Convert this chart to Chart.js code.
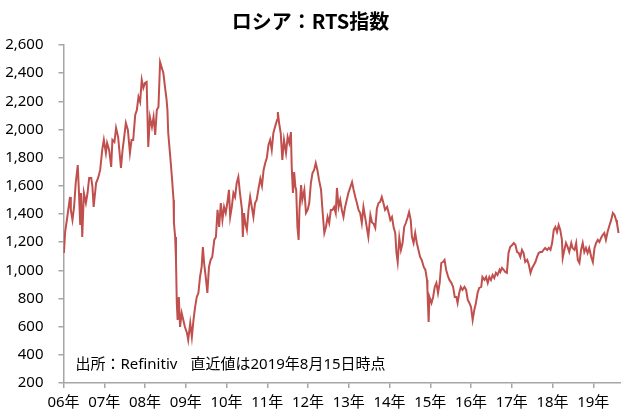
<!DOCTYPE html>
<html>
<head>
<meta charset="utf-8">
<script src="https://cdn.jsdelivr.net/npm/chart.js@4.4.1/dist/chart.umd.min.js"></script>
<style>
  html, body { margin: 0; padding: 0; background: #fff; }
  #wrap { width: 621px; height: 415px; }
</style>
</head>
<body>
<div id="wrap"><canvas id="c" width="621" height="415"></canvas></div>
<script>
const chartTitle = 'ロシア：RTS指数';
const sourceNote = '出所：Refinitiv';
const dateNote = '直近値は2019年8月15日時点';

const tickYears = [2006,2007,2008,2009,2010,2011,2012,2013,2014,2015,2016,2017,2018,2019];
const xTickLabels = ['06年','07年','08年','09年','10年','11年','12年','13年','14年','15年','16年','17年','18年','19年'];
const yTicks = [200,400,600,800,1000,1200,1400,1600,1800,2000,2200,2400,2600];

// decimal-year dates and RTS index values
const dates = [
2006.01,2006.04,2006.09,2006.16,2006.18,2006.22,2006.26,2006.30,2006.35,2006.38,2006.41,2006.43,2006.46,2006.50,2006.55,2006.59,2006.63,2006.68,2006.71,2006.74,2006.80,2006.85,2006.90,2006.95,2006.99,
2007.04,2007.07,2007.12,2007.17,2007.20,2007.25,2007.29,2007.34,2007.37,2007.41,2007.45,2007.49,2007.53,2007.58,2007.63,2007.67,2007.71,2007.76,2007.80,2007.84,2007.88,2007.92,2007.96,
2008.00,2008.04,2008.08,2008.12,2008.17,2008.21,2008.25,2008.29,2008.33,2008.37,2008.45,2008.49,2008.53,2008.55,2008.57,2008.62,2008.66,2008.70,2008.71,2008.74,2008.76,2008.78,2008.80,2008.83,2008.86,2008.90,2008.94,2008.98,
2009.03,2009.06,2009.11,2009.15,2009.19,2009.23,2009.27,2009.31,2009.35,2009.39,2009.42,2009.45,2009.49,2009.53,2009.57,2009.61,2009.65,2009.70,2009.74,2009.78,2009.82,2009.86,2009.90,2009.94,2009.98,
2010.02,2010.06,2010.09,2010.13,2010.17,2010.21,2010.25,2010.29,2010.33,2010.38,2010.40,2010.43,2010.46,2010.50,2010.54,2010.58,2010.62,2010.66,2010.70,2010.74,2010.78,2010.83,2010.87,2010.91,2010.95,2010.99,
2011.03,2011.07,2011.11,2011.15,2011.19,2011.24,2011.26,2011.29,2011.33,2011.37,2011.41,2011.46,2011.50,2011.54,2011.58,2011.60,2011.63,2011.66,2011.69,2011.71,2011.74,2011.77,2011.79,2011.83,2011.86,2011.91,2011.95,2011.99,
2012.03,2012.07,2012.11,2012.15,2012.19,2012.23,2012.27,2012.32,2012.36,2012.40,2012.44,2012.48,2012.52,2012.56,2012.60,2012.64,2012.68,2012.71,2012.75,2012.79,2012.83,2012.87,2012.91,2012.95,2012.99,
2013.04,2013.08,2013.12,2013.16,2013.20,2013.24,2013.28,2013.32,2013.36,2013.40,2013.44,2013.48,2013.53,2013.57,2013.61,2013.65,2013.69,2013.73,2013.77,2013.81,2013.85,2013.89,2013.94,2013.98,
2014.02,2014.06,2014.10,2014.14,2014.17,2014.20,2014.24,2014.28,2014.32,2014.36,2014.40,2014.44,2014.48,2014.52,2014.55,2014.59,2014.63,2014.67,2014.71,2014.75,2014.79,2014.84,2014.88,2014.92,2014.93,2014.96,2014.98,
2015.03,2015.07,2015.11,2015.15,2015.19,2015.23,2015.27,2015.31,2015.35,2015.39,2015.44,2015.47,2015.52,2015.56,2015.60,2015.64,2015.67,2015.71,2015.75,2015.79,2015.84,2015.88,2015.92,2015.96,
2016.00,2016.04,2016.08,2016.12,2016.16,2016.20,2016.25,2016.28,2016.33,2016.37,2016.41,2016.45,2016.49,2016.53,2016.57,2016.61,2016.65,2016.70,2016.72,2016.76,2016.80,2016.84,2016.88,2016.92,2016.96,
2017.01,2017.05,2017.09,2017.13,2017.17,2017.21,2017.25,2017.29,2017.33,2017.38,2017.42,2017.46,2017.50,2017.54,2017.58,2017.62,2017.66,2017.70,2017.74,2017.78,2017.82,2017.87,2017.91,2017.95,2017.99,
2018.03,2018.07,2018.11,2018.15,2018.19,2018.23,2018.25,2018.29,2018.33,2018.37,2018.41,2018.46,2018.49,2018.54,2018.58,2018.62,2018.66,2018.70,2018.74,2018.78,2018.82,2018.86,2018.90,2018.95,2018.99,
2019.03,2019.07,2019.11,2019.15,2019.19,2019.23,2019.27,2019.31,2019.35,2019.40,2019.44,2019.48,2019.52,2019.56,2019.58,2019.62
];
const rtsValues = [
1123,1272,1372,1521,1429,1358,1450,1620,1748,1549,1322,1549,1237,1549,1478,1549,1656,1656,1592,1450,1620,1656,1713,1855,1926,
1833,1904,1855,1734,1926,1911,2011,1947,1855,1727,1855,1947,2046,1997,1833,1926,1926,2103,2139,2231,2195,2352,2295,
2330,2337,1876,2089,2018,2089,1961,2139,2160,2479,2401,2302,2210,2139,1975,1805,1663,1500,1336,1237,1074,768,648,811,598,697,648,598,
555,506,626,527,648,740,811,839,953,1024,1166,1052,953,839,1024,1074,1095,1216,1237,1429,1308,1478,1358,1450,1407,
1478,1571,1379,1450,1549,1521,1620,1663,1549,1429,1237,1407,1336,1287,1429,1521,1450,1379,1478,1500,1571,1650,1600,1713,1762,1800,
1890,1926,1855,1975,2018,2068,2124,2046,1975,1784,1926,1833,1947,1904,1982,1734,1549,1698,1592,1571,1308,1216,1429,1606,1500,1571,1407,1429,
1478,1620,1691,1713,1762,1713,1642,1571,1407,1265,1308,1379,1336,1429,1429,1450,1407,1585,1450,1500,1429,1379,1450,1500,1549,
1592,1627,1571,1521,1478,1429,1407,1336,1450,1379,1308,1237,1393,1340,1330,1301,1440,1478,1486,1521,1478,1429,1450,1407,
1358,1379,1308,1265,1123,1059,1230,1145,1194,1308,1336,1372,1414,1358,1237,1194,1265,1194,1145,1095,1074,1024,1003,932,861,634,811,
768,811,882,910,839,910,1052,1059,1074,1003,953,932,910,882,811,811,768,839,882,861,882,861,790,768,
740,648,719,768,839,875,882,953,932,953,910,953,932,967,946,982,967,1003,989,1017,1003,989,982,1123,1166,
1180,1194,1180,1130,1123,1095,1145,1123,1059,1074,1038,982,1017,1038,1059,1095,1123,1130,1130,1145,1159,1145,1159,1145,1194,
1287,1308,1272,1322,1287,1216,1088,1145,1194,1166,1130,1194,1159,1145,1194,1074,1052,1145,1194,1130,1159,1123,1159,1095,1059,
1159,1194,1216,1201,1230,1251,1265,1216,1272,1322,1358,1407,1393,1358,1336,1265
];

const points = dates.map((d, i) => ({ x: d, y: rtsValues[i] }));

const AXIS_COLOR = '#a6a6a6';
const FONT_FAMILY = '"Noto Sans", "Noto Sans CJK JP", sans-serif';

const notePlugin = {
  id: 'notePlugin',
  afterDraw(chart) {
    const { ctx, chartArea } = chart;
    ctx.save();
    ctx.font = '15px ' + FONT_FAMILY;
    ctx.fillStyle = '#000';
    ctx.textBaseline = 'middle';
    ctx.textAlign = 'left';
    const y = chartArea.bottom - 18;
    ctx.fillText(sourceNote, chartArea.left + 12, y);
    ctx.fillText(dateNote, chartArea.left + 127, y);
    ctx.restore();
  }
};

new Chart(document.getElementById('c'), {
  type: 'line',
  data: {
    datasets: [{
      data: points,
      borderColor: '#C0504D',
      borderWidth: 2,
      pointRadius: 0,
      tension: 0,
      fill: false
    }]
  },
  options: {
    responsive: false,
    animation: false,
    events: [],
    layout: { padding: { left: 0, right: 0, top: 0, bottom: 0 } },
    plugins: {
      legend: { display: false },
      tooltip: { enabled: false },
      title: {
        display: true,
        text: chartTitle,
        color: '#000',
        font: { size: 20, weight: 'bold', family: '"Noto Sans CJK JP", sans-serif' },
        padding: { top: 9, bottom: 12 }
      }
    },
    scales: {
      x: {
        type: 'linear',
        min: 2006,
        max: 2019.68,
        afterBuildTicks(scale) {
          scale.ticks = tickYears.map(v => ({ value: v }));
        },
        afterFit(scale) { scale.height = 32; },
        ticks: {
          autoSkip: false,
          maxRotation: 0,
          padding: 6,
          color: '#000',
          font: { size: 15, family: FONT_FAMILY },
          callback: (v) => xTickLabels[tickYears.indexOf(v)]
        },
        grid: { drawOnChartArea: false, drawTicks: true, tickLength: 5, color: AXIS_COLOR, lineWidth: 1.5 },
        border: { display: true, color: AXIS_COLOR, width: 1.5 }
      },
      y: {
        min: 200,
        max: 2600,
        afterBuildTicks(scale) {
          scale.ticks = yTicks.map(v => ({ value: v }));
        },
        afterFit(scale) { scale.width = 63.5; },
        ticks: {
          padding: 15,
          color: '#000',
          font: { size: 15, family: FONT_FAMILY },
          callback: (v) => v.toLocaleString('en-US')
        },
        grid: { drawOnChartArea: false, drawTicks: true, tickLength: 5, color: AXIS_COLOR, lineWidth: 1.5 },
        border: { display: true, color: AXIS_COLOR, width: 1.5 }
      }
    }
  },
  plugins: [notePlugin]
});
</script>
</body>
</html>
